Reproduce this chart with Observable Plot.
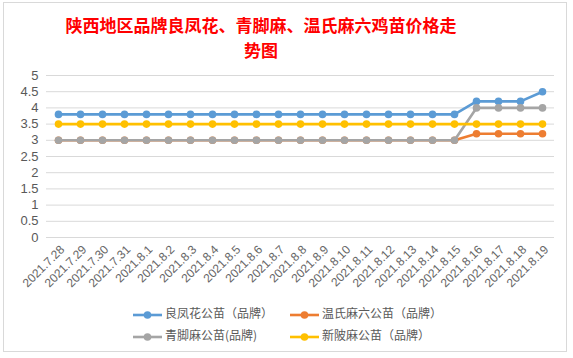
<!DOCTYPE html>
<html><head><meta charset="utf-8">
<script src="https://cdn.jsdelivr.net/npm/d3@7"></script>
<script src="https://cdn.jsdelivr.net/npm/@observablehq/plot@0.6"></script>
<style>
body{margin:0;width:573px;height:358px;position:relative;background:#fff;overflow:hidden;font-family:"Liberation Sans","Noto Sans CJK SC",sans-serif;}
#frame{position:absolute;left:3px;top:2px;width:564px;height:350px;border:1px solid #d9d9d9;box-sizing:border-box;}
.tl{position:absolute;left:41px;width:440px;text-align:center;color:#ff0000;font-family:"Noto Sans CJK SC",serif;font-weight:bold;font-size:17px;line-height:25px;white-space:nowrap;}
#chart{position:absolute;left:0;top:65px;}
#legend{position:absolute;left:0;top:0;}
.lg{position:absolute;font-family:"Noto Sans CJK SC",sans-serif;font-size:12px;color:#595959;white-space:nowrap;line-height:16px;}
.lg svg{vertical-align:middle;margin-right:3px;}
</style></head>
<body>
<div id="frame"></div>
<div class="tl" style="top:12px">陕西地区品牌良凤花、青脚麻、温氏麻六鸡苗价格走</div>
<div class="tl" style="top:37px">势图</div>
<div id="chart"></div>
<div id="legend"></div>
<script>
const dates = ["2021.7.28","2021.7.29","2021.7.30","2021.7.31","2021.8.1","2021.8.2","2021.8.3","2021.8.4","2021.8.5","2021.8.6","2021.8.7","2021.8.8","2021.8.9","2021.8.10","2021.8.11","2021.8.12","2021.8.13","2021.8.14","2021.8.15","2021.8.16","2021.8.17","2021.8.18","2021.8.19"];
const liangfeng = [3.8,3.8,3.8,3.8,3.8,3.8,3.8,3.8,3.8,3.8,3.8,3.8,3.8,3.8,3.8,3.8,3.8,3.8,3.8,4.2,4.2,4.2,4.5];
const wenshi = [3,3,3,3,3,3,3,3,3,3,3,3,3,3,3,3,3,3,3,3.2,3.2,3.2,3.2];
const qingjiao = [3,3,3,3,3,3,3,3,3,3,3,3,3,3,3,3,3,3,3,4,4,4,4];
const xinpi = [3.5,3.5,3.5,3.5,3.5,3.5,3.5,3.5,3.5,3.5,3.5,3.5,3.5,3.5,3.5,3.5,3.5,3.5,3.5,3.5,3.5,3.5,3.5];
const seriesNames = ["良凤花公苗（品牌）","温氏麻六公苗（品牌）","青脚麻公苗(品牌)","新陂麻公苗（品牌）"];
const seriesColors = ["#5b9bd5","#ed7d31","#a5a5a5","#ffc000"];
const seriesValues = [liangfeng, wenshi, qingjiao, xinpi];
const yTicks = [0,0.5,1,1.5,2,2.5,3,3.5,4,4.5,5];

const rows = [];
seriesValues.forEach((vals, s) => vals.forEach((v, i) => rows.push({series: seriesNames[s], date: dates[i], value: v})));

const marks = [Plot.gridY(yTicks, {stroke: "#d9d9d9", strokeOpacity: 1})];
seriesNames.forEach((name, s) => {
  const d = rows.filter(r => r.series === name);
  marks.push(Plot.line(d, {x: "date", y: "value", stroke: seriesColors[s], strokeWidth: 2.6}));
  marks.push(Plot.dot(d, {x: "date", y: "value", fill: seriesColors[s], r: 3.8, stroke: "none"}));
});
marks.push(Plot.axisY(yTicks, {tickSize: 0, tickPadding: 8, fontSize: 13, fill: "#595959", tickFormat: d => String(d)}));
marks.push(Plot.axisX({tickSize: 0, tickRotate: -45, tickPadding: 10, dx: 4, fontSize: 12, fill: "#666666"}));

const chart = Plot.plot({
  width: 573, height: 230,
  marginTop: 10, marginBottom: 58, marginLeft: 46, marginRight: 19,
  style: {fontFamily: "Liberation Sans, sans-serif", background: "transparent"},
  x: {type: "point", domain: dates, padding: 0.5, label: null},
  y: {domain: [0, 5], label: null},
  marks
});
document.getElementById("chart").appendChild(chart);

const pos = [[133, 305], [290, 305], [133, 327], [290, 327]];
const leg = document.getElementById("legend");
seriesNames.forEach((name, s) => {
  const el = document.createElement("div");
  el.className = "lg";
  el.style.left = pos[s][0] + "px";
  el.style.top = pos[s][1] + "px";
  el.innerHTML = `<svg width="29" height="10"><line x1="0" x2="29" y1="5" y2="5" stroke="${seriesColors[s]}" stroke-width="2.6"/><circle cx="14.5" cy="5" r="3.8" fill="${seriesColors[s]}"/></svg>${name}`;
  leg.appendChild(el);
});
</script>
</body></html>
